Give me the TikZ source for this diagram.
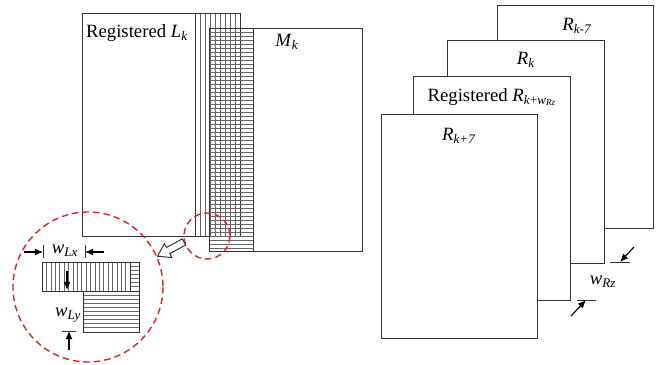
\documentclass[tikz,border=0pt]{standalone}
\usepackage{fontspec}
\setmainfont{Liberation Serif}
\usepackage{xcolor}
\usetikzlibrary{calc, arrows.meta}

\definecolor{ringred}{RGB}{225,35,35}
\newcommand{\itsub}[2]{\textit{#1}\textsubscript{\textit{#2}}}

\tikzset{
  frame/.style = {draw=black!80, line width=0.85pt},
  stripe/.style = {draw=black!60, line width=0.4pt},
  dimarrow/.style = {-{Latex[length=7pt, width=6pt]}, line width=1pt},
  zoomring/.style = {draw=ringred, dash pattern=on 5.5pt off 3.5pt, line width=1.2pt},
  lbl/.style = {font=\fontsize{16}{18}\selectfont, inner sep=0pt},
}

\begin{document}
\begin{tikzpicture}[x=0.03cm, y=-0.03cm]
  \useasboundingbox (0,0) rectangle (658,365);

  % registered L_k, striped overlap at its right side
  \foreach \x in {200,205,...,235}
    \draw[stripe] (\x,13) -- (\x,236);
  \draw[frame] (82,13) rectangle (240,236);
  \draw[frame] (195,13) -- (195,236);
  \node[lbl] (Lk) at (137,33) {Registered \itsub{L}{k}};

  % M_k, striped overlap at its left side
  \foreach \y in {32,36,...,248}
    \draw[stripe] (209,\y) -- (253,\y);
  \draw[frame] (209,28) rectangle (362,251);
  \draw[frame] (253,28) -- (253,251);
  \node[lbl] (Mk) at (287,42) {\itsub{M}{k}};

  % zoomed corner
  \draw[zoomring] (207,236) circle (23);
  \draw[zoomring] (88,287) circle (75);
  \coordinate (hatail) at (184,242);
  \begin{scope}[shift={(hatail)}, rotate=208.3]
    \draw[frame, fill=white] (0,-3.5) -- (18,-3.5) -- (18,-8) -- (30,0)
      -- (18,8) -- (18,3.5) -- (0,3.5) -- cycle;
  \end{scope}

  % inset: overlap widths
  \foreach \i in {1,...,19}
    \draw[stripe] ({42+4.4*\i},262) -- ({42+4.4*\i},291);
  \foreach \y in {266,270,...,288}
    \draw[stripe] (130,\y) -- (139,\y);
  \foreach \y in {295,299,...,329}
    \draw[stripe] (83,\y) -- (139,\y);
  \draw[frame] (42,262) rectangle (139,291);
  \draw[frame] (130,262) -- (130,291);
  \draw[frame] (83,291) rectangle (139,332);

  \coordinate (xl) at (43,252);
  \coordinate (xr) at (85,252);
  \draw[frame] ($(xl)+(0,-7)$) -- ($(xl)+(0,6)$);
  \draw[frame] ($(xr)+(0,-7)$) -- ($(xr)+(0,6)$);
  \draw[dimarrow] (24,252) -- (xl);
  \draw[dimarrow] (104,252) -- (xr);
  \node[lbl] (wLx) at (65,251) {\itsub{w}{Lx}};

  \draw[dimarrow] (67,271) -- (67,290);
  \node[lbl] (wLy) at (68,315) {\itsub{w}{Ly}};
  \coordinate (yb) at (69,331);
  \draw[frame] ($(yb)+(-7,0)$) -- ($(yb)+(7,0)$);
  \draw[dimarrow] (69,350) -- (yb);

  % stack of R images
  \draw[frame, fill=white] (497,5) rectangle (653,228);
  \node[lbl] (Rkm) at (577,26) {\itsub{R}{k-7}};
  \draw[frame, fill=white] (447,40) rectangle (604,263);
  \node[lbl] (Rk) at (526,60) {\itsub{R}{k}};
  \draw[frame, fill=white] (413,76) rectangle (570,300);
  \node[lbl] (Rreg) at (492,97)
    {Registered \textit{R}\textsubscript{\textit{k}+\textit{w}\textsubscript{\textit{Rz}}}};
  \draw[frame, fill=white] (381,114) rectangle (537,338);
  \node[lbl] (Rkp) at (459,136) {\itsub{R}{k+7}};

  % z spacing
  \coordinate (zt) at (620,262);
  \coordinate (zb) at (586,300);
  \draw[frame] ($(zt)+(-10,0)$) -- ($(zt)+(10,0)$);
  \draw[frame] ($(zb)+(-9,0)$) -- ($(zb)+(10,0)$);
  \draw[dimarrow] (634,247) -- (zt);
  \draw[dimarrow] (571,316) -- (zb);
  \node[lbl] (wRz) at (603,282) {\itsub{w}{Rz}};
\end{tikzpicture}
\end{document}
